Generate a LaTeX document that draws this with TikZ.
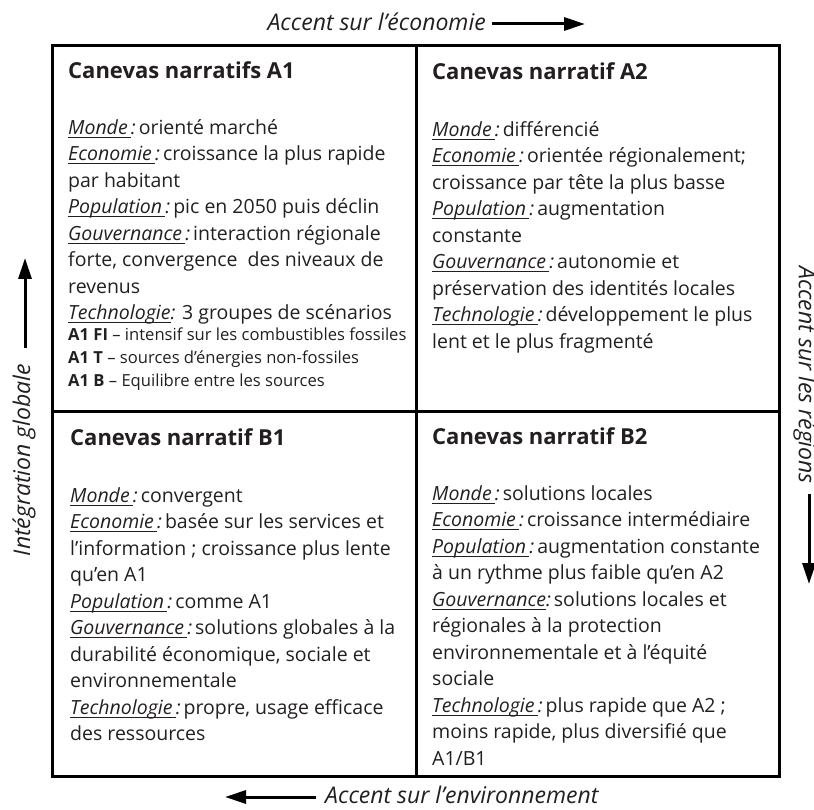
\documentclass[tikz,border=0pt]{standalone}
\usepackage{fontspec}
\setmainfont{Open Sans}
\usetikzlibrary{arrows.meta}
\definecolor{ink}{HTML}{231F20}
\newsavebox{\lblbox}
\newcommand{\lbl}[1]{\sbox{\lblbox}{\textit{#1}}\rlap{\rule[-3.5pt]{\wd\lblbox}{0.8pt}}\usebox{\lblbox}}
\newcommand{\lab}[1]{\lbl{#1\,}\textit{:}\hspace{0.15em}}
\begin{document}
\begin{tikzpicture}[x=1pt,y=-1pt,
  frame/.style={line width=3pt, draw=black},
  ttl/.style={anchor=base west, inner sep=0, text=ink, font=\bfseries\fontsize{22}{26}\selectfont},
  body/.style={anchor=north west, inner sep=0, align=left, text=ink, font=\fontsize{19.5}{26.5}\selectfont},
  small/.style={anchor=north west, inner sep=0, align=left, text=ink, font=\fontsize{16.6}{23}\selectfont},
  axis/.style={inner sep=0, text=ink, font=\itshape\fontsize{23}{26}\selectfont},
  arr/.style={line width=3pt, -{Triangle[length=21pt,width=13pt]}}]
\useasboundingbox (0,0) rectangle (814,810);
% frame
\draw[frame] (52,46) rectangle (779,776);
\draw[frame] (416,46) -- (416,776);
\draw[frame] (52,411) -- (779,411);
% A1
\node[ttl] (tA1) at (68,79) {Canevas narratifs A1};
\node[body] (bA1) at (68,119) {\lab{Monde}orienté marché\\
\lab{Economie}croissance la plus rapide\\
par habitant\\
\lab{Population}pic en 2050 puis déclin\\
\lab{Gouvernance}interaction régionale\\
forte, convergence\ \ des niveaux de\\
revenus\\
\lbl{Technologie}\textit{:} 3 groupes de scénarios};
\node[small] (sA1) at (68,328) {\textbf{A1 FI} – intensif sur les combustibles fossiles\\
\textbf{A1 T} – sources d’énergies non-fossiles\\
\textbf{A1 B} – Equilibre entre les sources};
% A2
\node[ttl] (tA2) at (432,80) {Canevas narratif A2};
\node[body] (bA2) at (432,121) {\lab{Monde}différencié\\
\lab{Economie}orientée régionalement;\\
croissance par tête la plus basse\\
\lab{Population}augmentation\\
constante\\
\lab{Gouvernance}autonomie et\\
préservation des identités locales\\
\lab{Technologie}développement le plus\\
lent et le plus fragmenté};
% B1
\node[ttl] (tB1) at (70,445) {Canevas narratif B1};
\node[body] (bB1) at (70,487) {\lab{Monde}convergent\\
\lab{Economie}basée sur les services et\\
l’information ; croissance plus lente\\
qu’en A1\\
\lab{Population}comme A1\\
\lab{Gouvernance}solutions globales à la\\
durabilité économique, sociale et\\
environnementale\\
\lab{Technologie}propre, usage efficace\\
des ressources};
% B2
\node[ttl] (tB2) at (432,444) {Canevas narratif B2};
\node[body] (bB2) at (432,485) {\lab{Monde}solutions locales\\
\lab{Economie}croissance intermédiaire\\
\lab{Population}augmentation constante\\
à un rythme plus faible qu’en A2\\
\lbl{Gouvernance}\textit{:}\hspace{0.15em}solutions locales et\\
régionales à la protection\\
environnementale et à l’équité\\
sociale\\
\lab{Technologie}plus rapide que A2 ;\\
moins rapide, plus diversifié que\\
A1/B1};
% axis labels
\node[axis, anchor=east] (top) at (486,22) {Accent sur l’économie};
\coordinate (topS) at (492,24);
\coordinate (topE) at (585,24);
\draw[arr] (topS) -- (topE);
\node[axis, anchor=west] (bot) at (325,795) {Accent sur l’environnement};
\coordinate (botS) at (316,797);
\coordinate (botE) at (225,797);
\draw[arr] (botS) -- (botE);
\node[axis, rotate=90] (lft) at (24,460) {Intégration globale};
\coordinate (lftS) at (25,348);
\coordinate (lftE) at (25,258);
\draw[arr] (lftS) -- (lftE);
\node[axis, rotate=-90] (rgt) at (805,375) {Accent sur les régions};
\coordinate (rgtS) at (809,494);
\coordinate (rgtE) at (809,584);
\draw[arr] (rgtS) -- (rgtE);
\end{tikzpicture}
\end{document}
